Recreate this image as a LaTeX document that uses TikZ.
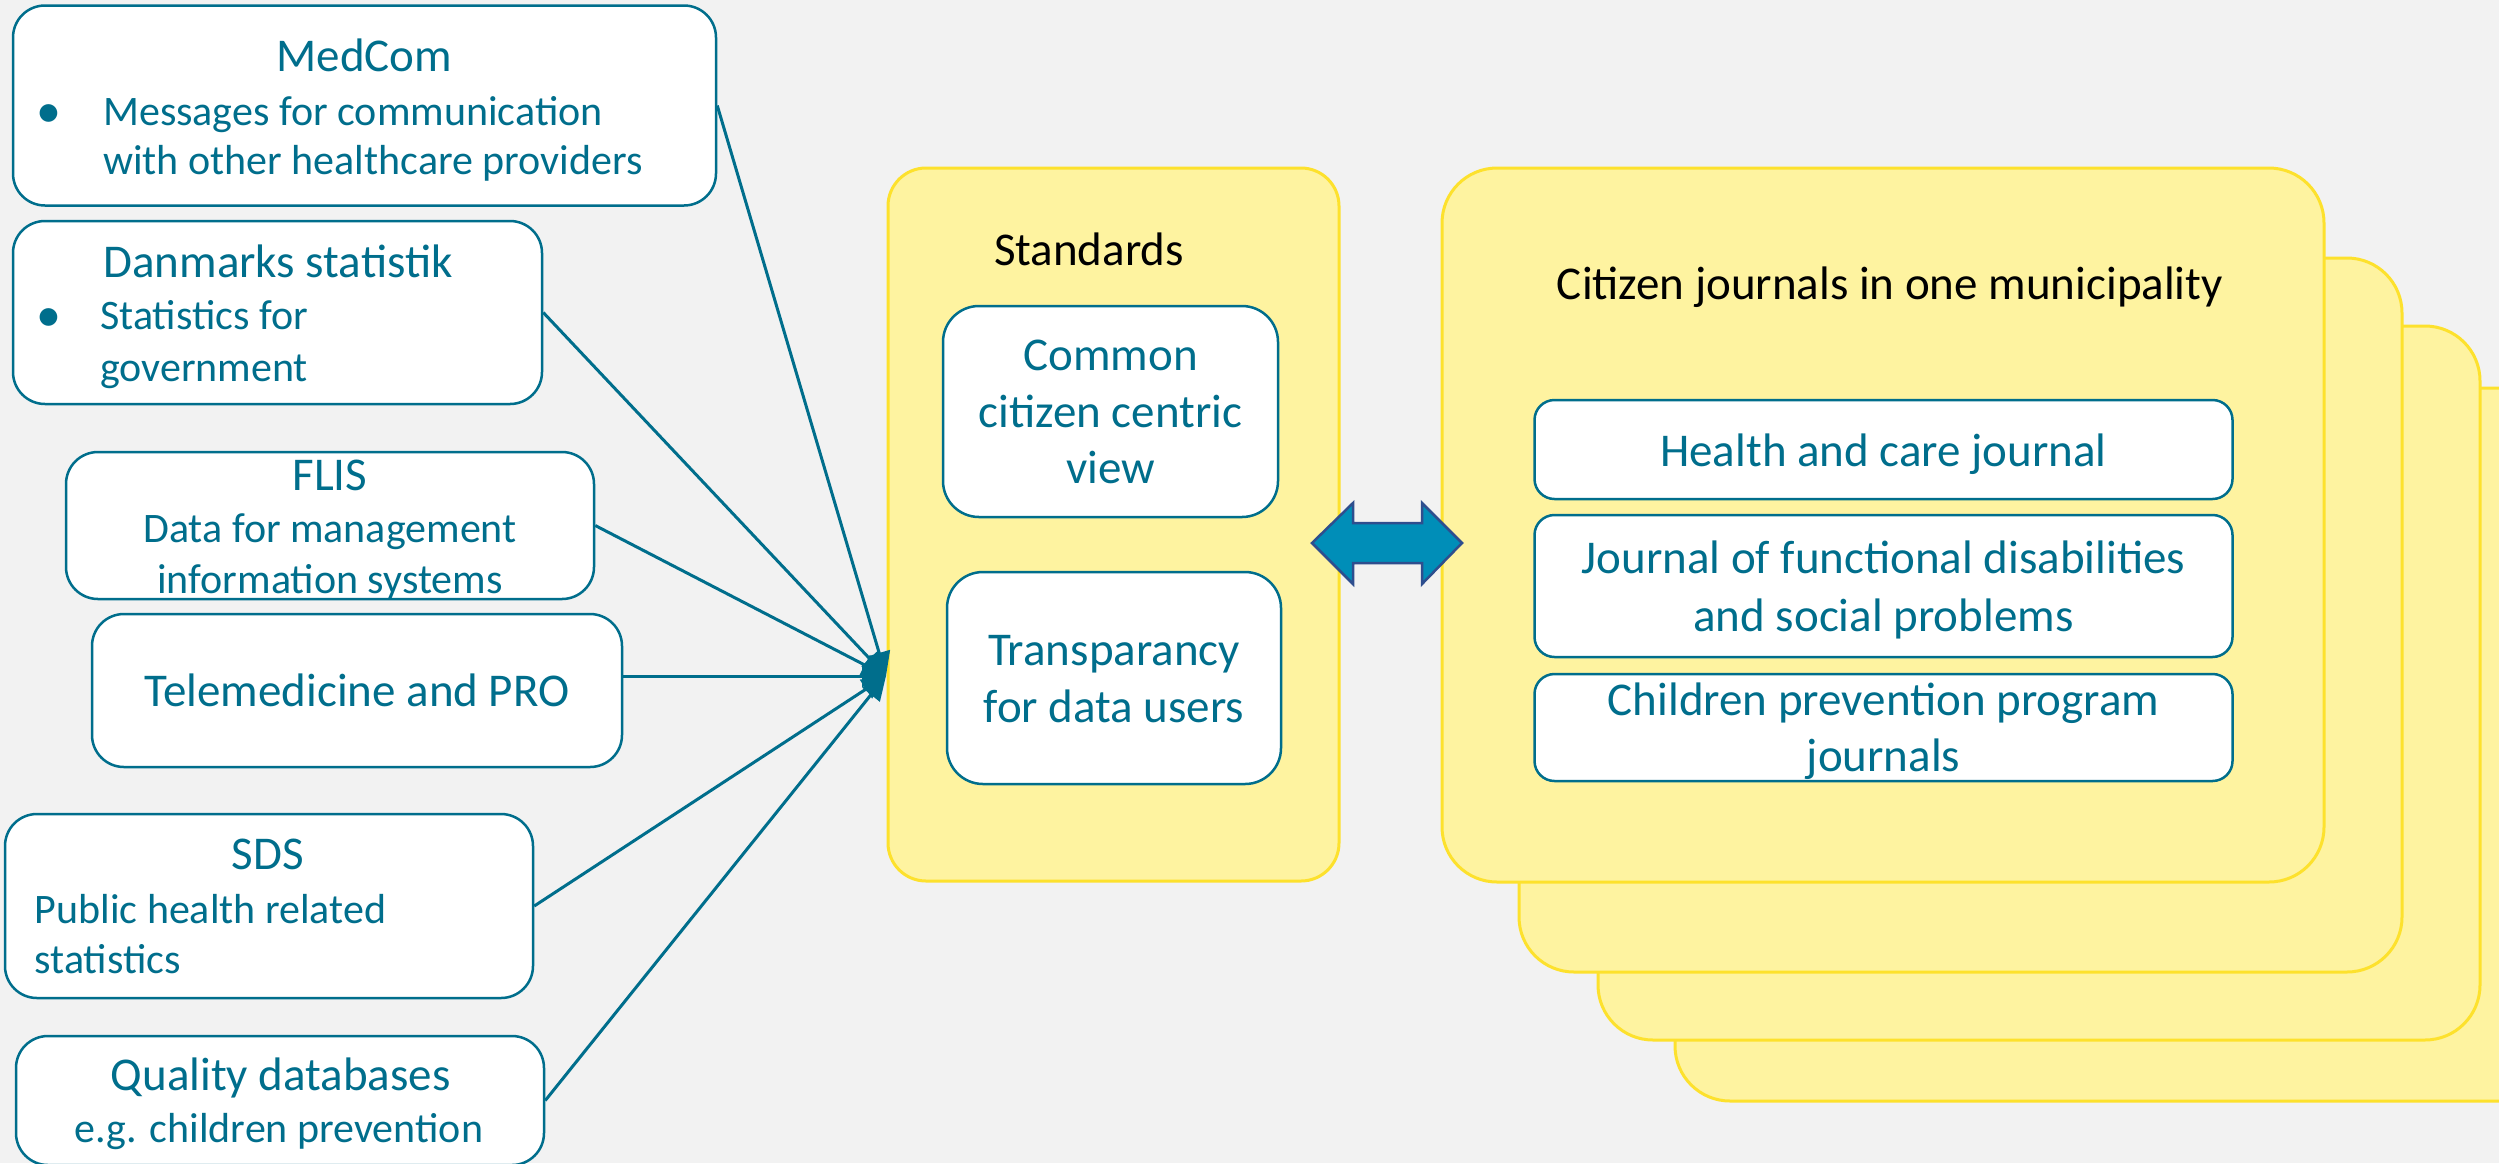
\documentclass[tikz,border=0pt]{standalone}
\usepackage{fontspec}
\setmainfont{Carlito}
\usetikzlibrary{arrows.meta}
\definecolor{tealtxt}{HTML}{006E8C}
\definecolor{bgc}{HTML}{F2F2F2}
\definecolor{yfill}{HTML}{FEF3A0}
\definecolor{yline}{HTML}{FDE12D}
\definecolor{arrfill}{HTML}{008EB8}
\definecolor{arrline}{HTML}{2E4E8E}
\tikzset{
  srcbox/.style={draw=tealtxt, line width=2.5pt, fill=white, rounded corners=32pt, inner sep=0pt, rectangle},
  stdbox/.style={draw=tealtxt, line width=2.5pt, fill=white, rounded corners=36pt, inner sep=0pt, rectangle},
  jbox/.style={draw=tealtxt, line width=2.5pt, fill=white, rounded corners=20pt, inner sep=0pt, rectangle},
  card/.style={draw=yline, line width=3pt, fill=yfill, rounded corners=55pt},
  panel/.style={draw=yline, line width=3pt, fill=yfill, rounded corners=38pt},
  big/.style={font=\fontsize{47}{57}\selectfont, text=tealtxt, inner sep=0pt, anchor=base},
  small/.style={font=\fontsize{42}{50}\selectfont, text=tealtxt, inner sep=0pt, anchor=base},
  head/.style={font=\fontsize{47}{57}\selectfont, text=black, inner sep=0pt, anchor=base},
  feed/.style={draw=tealtxt, line width=3pt, -{Triangle[length=24pt,width=22pt]}},
}
\begin{document}
\begin{tikzpicture}[x=1pt,y=-1pt]
\fill[bgc] (0,0) rectangle (2499,1163);
\useasboundingbox (0,0) rectangle (2499,1163);

% stacked municipality cards
\draw[card] (1675,388) rectangle (2600,1101);
\draw[card] (1598,326) rectangle (2480,1040);
\draw[card] (1519,258) rectangle (2402,972);
\draw[card] (1442,168) rectangle (2324,882);
\node[head] (cjtitle) at (1890,299) {Citizen journals in one municipality};

\node[jbox, minimum width=698pt, minimum height=99pt] (health) at (1883.5,449.5) {};
\node[big] (healtht) at (1883.5,466) {Health and care journal};
\node[jbox, minimum width=698pt, minimum height=142pt] (funct) at (1883.5,586) {};
\node[big] (funct1) at (1883.5,573) {Journal of functional disabilities};
\node[big] (funct2) at (1883.5,631) {and social problems};
\node[jbox, minimum width=698pt, minimum height=107pt] (child) at (1883.5,727.5) {};
\node[big] (child1) at (1883.5,715) {Children prevention program};
\node[big] (child2) at (1883.5,771) {journals};

% standards panel
\draw[panel] (888,168) rectangle (1339,881);
\node[head] (stdtitle) at (1089,265) {Standards};
\node[stdbox, minimum width=335pt, minimum height=211pt] (common) at (1110.5,411.5) {};
\node[big] (common1) at (1110.5,370) {Common};
\node[big] (common2) at (1110.5,427) {citizen centric};
\node[big] (common3) at (1110.5,483) {view};
\node[stdbox, minimum width=334pt, minimum height=212pt] (transp) at (1114,678) {};
\node[big] (transp1) at (1114,665) {Transparancy};
\node[big] (transp2) at (1114,722) {for data users};

% double arrow
\draw[fill=arrfill, draw=arrline, line width=2.5pt, line join=miter]
  (1312,543) -- (1353,503) -- (1353,523) -- (1422,523) -- (1422,503) -- (1462,543)
  -- (1422,584) -- (1422,563) -- (1353,563) -- (1353,584) -- cycle;

% source boxes
\node[srcbox, minimum width=703pt, minimum height=200pt] (medcom) at (364.5,105.5) {};
\node[big] (medcomt) at (364.5,71) {MedCom};
\node[small, font=\fontsize{50}{50}\selectfont] (medb) at (49,127) {•};
\node[small, anchor=base west] (medcom1) at (103,125) {Messages for communication};
\node[small, anchor=base west] (medcom2) at (103,174) {with other healthcare providers};

\node[srcbox, minimum width=529pt, minimum height=183pt] (dst) at (277.5,312.5) {};
\node[big] (dstt) at (278,277) {Danmarks statistik};
\node[small, font=\fontsize{50}{50}\selectfont] (dstb) at (49,331) {•};
\node[small, anchor=base west] (dst1) at (100,329) {Statistics for};
\node[small, anchor=base west] (dst2) at (100,381) {government};

\node[srcbox, minimum width=528pt, minimum height=147pt] (flis) at (330,525.5) {};
\node[big] (flist) at (330,490) {FLIS};
\node[small] (flis1) at (330,542) {Data for management};
\node[small] (flis2) at (330,593) {information systems};

\node[srcbox, minimum width=530pt, minimum height=153pt] (tele) at (357,690.5) {};
\node[big] (telet) at (357,706) {Telemedicine and PRO};

\node[srcbox, minimum width=528pt, minimum height=184pt] (sds) at (269,906) {};
\node[big] (sdst) at (268,869) {SDS};
\node[small, anchor=base west] (sds1) at (34.5,923) {Public health related};
\node[small, anchor=base west] (sds2) at (34.5,973) {statistics};

\node[srcbox, minimum width=528pt, minimum height=129pt] (qual) at (280,1100.5) {};
\node[big] (qualt) at (280.7,1090) {Quality databases};
\node[small] (qual1) at (279,1142) {e.g. children prevention};

% converging connectors
\coordinate (hub) at (886,676);
\draw[feed] (medcom.east) -- (hub);
\draw[feed] (dst.east) -- (hub);
\draw[feed] (flis.east) -- (hub);
\draw[feed] (tele.east |- hub) -- (hub);
\draw[feed] (sds.east) -- (hub);
\draw[feed] (qual.east) -- (hub);
\end{tikzpicture}
\end{document}
